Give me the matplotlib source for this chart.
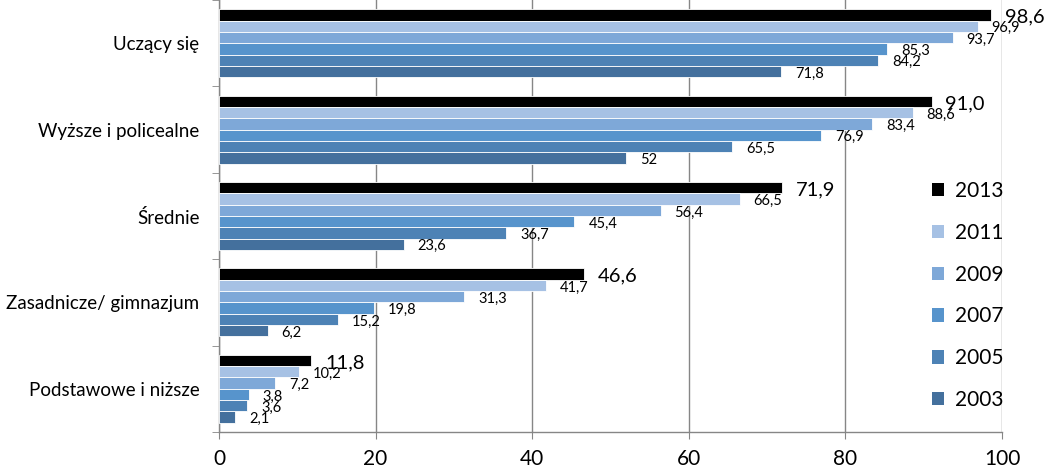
import matplotlib
matplotlib.use("Agg")
import matplotlib.pyplot as plt
from matplotlib.patches import Patch
import numpy as np

plt.rcParams['font.family'] = ['Lato', 'DejaVu Sans']

categories = ["Uczący się", "Wyższe i policealne", "Średnie", "Zasadnicze/ gimnazjum", "Podstawowe i niższe"]
years = ["2013", "2011", "2009", "2007", "2005", "2003"]
v2013 = [98.6, 91.0, 71.9, 46.6, 11.8]
v2011 = [96.9, 88.6, 66.5, 41.7, 10.2]
v2009 = [93.7, 83.4, 56.4, 31.3, 7.2]
v2007 = [85.3, 76.9, 45.4, 19.8, 3.8]
v2005 = [84.2, 65.5, 36.7, 15.2, 3.6]
v2003 = [71.8, 52, 23.6, 6.2, 2.1]
series = [v2013, v2011, v2009, v2007, v2005, v2003]
colors = ["#000000", "#A6C1E4", "#7EA8D8", "#5794CC", "#4D82B5", "#44709D"]
xticks = [0, 20, 40, 60, 80, 100]

fig = plt.figure(figsize=(10.45, 4.69), dpi=100)
ax = fig.add_axes([219/1045, 1-432/469, (1002-219)/1045, 432/469])

grid_c = "#868686"
n = len(series)
h = 0.131
y = np.arange(len(categories))
for i, (vals, c) in enumerate(zip(series, colors)):
    pos = y - (n-1)/2*h + i*h
    ax.barh(pos, vals, height=h, color=c, edgecolor="white", linewidth=0.6, zorder=3)
    for p, v in zip(pos, vals):
        if i == 0:
            txt = f"{v:.1f}".replace(".", ",")
            fs = 14.5
        elif i == n-1:
            txt = ("%g" % v).replace(".", ",")
            fs = 10.5
        else:
            txt = f"{v:.1f}".replace(".", ",")
            fs = 10.5
        ax.annotate(txt, (v, p), xytext=(10, -1.5), textcoords="offset points",
                    ha="left", va="center", fontsize=fs, zorder=4)

ax.set_xlim(0, 100)
ax.set_ylim(len(categories)-0.5, -0.5)
ax.set_xticks(xticks)
ax.set_xticklabels([str(t) for t in xticks], fontsize=15)
ax.tick_params(axis="x", direction="out", length=5, color=grid_c, pad=7)
ax.set_yticks(y)
ax.set_yticklabels(categories, fontsize=13.5)
ax.tick_params(axis="y", length=0, pad=14)
ax.set_yticks(np.arange(len(categories)+1) - 0.5, minor=True)
ax.tick_params(axis="y", which="minor", direction="out", length=5, color=grid_c)
ax.grid(axis="x", color=grid_c, linewidth=1, zorder=0)
for s in ["top", "right"]:
    ax.spines[s].set_visible(False)
for s in ["left", "bottom"]:
    ax.spines[s].set_color(grid_c)
    ax.spines[s].set_linewidth(1)

handles = [Patch(facecolor=c, edgecolor="none") for c in colors]
fig.legend(handles, years, loc="upper left", bbox_to_anchor=(913/1045, 1-162/469),
           frameon=False, fontsize=15, handlelength=0.6, handleheight=0.6,
           handletextpad=0.5, labelspacing=1.05)

fig.savefig("out.png", dpi=100)
